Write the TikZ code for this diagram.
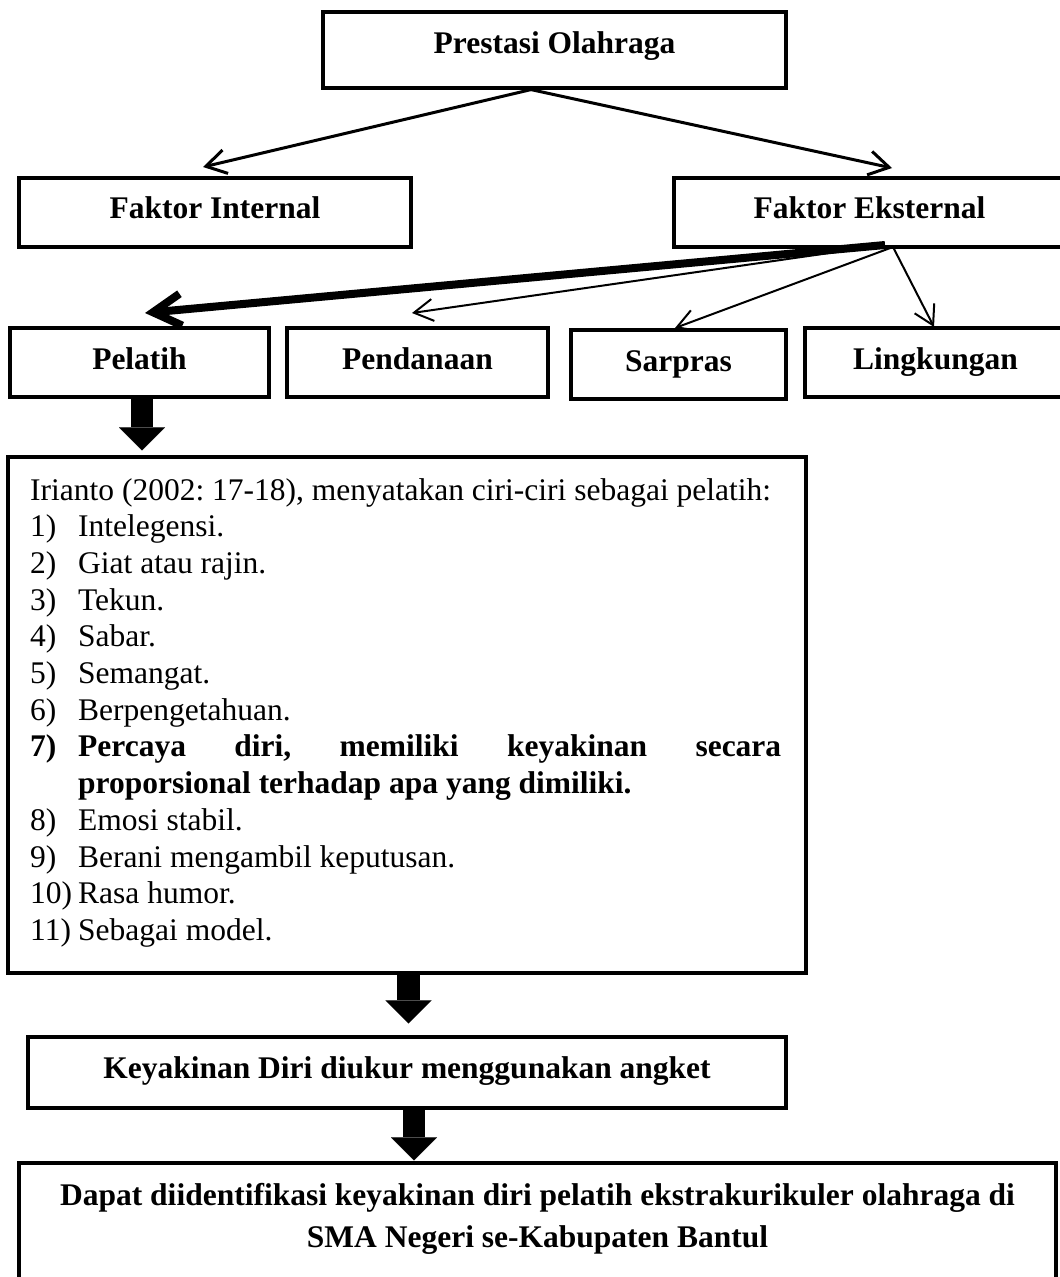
\documentclass[tikz,border=0pt]{standalone}
\usepackage{fontspec}
\setmainfont{Liberation Serif}
\usetikzlibrary{arrows.meta,calc}
\frenchspacing
\begin{document}
\begin{tikzpicture}[x=1pt,y=-1pt,
  box/.style={draw, line width=3.2pt, inner sep=0pt, font=\bfseries\fontsize{31.5}{36.7}\selectfont, text depth=0pt},
  lst/.style={anchor=base west, inner sep=0pt, font=\fontsize{31.5}{36.7}\selectfont},
  btxt/.style={anchor=base, inner sep=0pt, font=\bfseries\fontsize{31.5}{36.7}\selectfont},
  thinarr/.style={line width=2pt, -{Straight Barb[length=19pt,width=22pt]}},
  midarr/.style={line width=3pt, -{Straight Barb[length=20pt,width=24pt]}},
  fatarr/.style={line width=8pt, -{Straight Barb[length=28pt,width=32pt]}},
  blockarr/.style={line width=22.5pt, -{Triangle[length=23pt,width=46pt,line width=0.01pt]}}]
\clip (0,0) rectangle (1060,1277);
\fill[white] (0,0) rectangle (1060,1277);

% boxes
\node[box, minimum width=463pt, minimum height=76pt, text height=6pt] (top) at (554.5,50) {Prestasi Olahraga};
\node[box, minimum width=392pt, minimum height=69pt, text height=11pt] (fi) at (215,212.5) {Faktor Internal};
\node[box, minimum width=391pt, minimum height=69pt, text height=11pt] (fe) at (869.5,212.5) {Faktor Eksternal};
\node[box, minimum width=259pt, minimum height=69pt, text height=13pt] (pel) at (139.5,362.5) {Pelatih};
\node[box, minimum width=261pt, minimum height=69pt, text height=13pt] (pen) at (417.5,362.5) {Pendanaan};
\node[box, minimum width=215pt, minimum height=69pt, text height=13pt] (sar) at (678.5,364.5) {Sarpras};
\node[box, minimum width=261pt, minimum height=69pt, text height=13pt] (lin) at (935.5,362.5) {Lingkungan};
\node[box, minimum width=798pt, minimum height=516pt] (iri) at (407,715) {};
\node[box, minimum width=758pt, minimum height=71pt, text height=11pt] (key) at (407,1072.5) {Keyakinan Diri diukur menggunakan angket};
\node[box, minimum width=1037pt, minimum height=137pt] (bot) at (537.5,1231.5) {};

% list text
\node[lst] (l0) at (30,500) {Irianto (2002: 17-18), menyatakan ciri-ciri sebagai pelatih:};
\node[lst] (l1) at (30,536.7) {\makebox[48pt][l]{1)}Intelegensi.};
\node[lst] (l2) at (30,573.4) {\makebox[48pt][l]{2)}Giat atau rajin.};
\node[lst] (l3) at (30,610.1) {\makebox[48pt][l]{3)}Tekun.};
\node[lst] (l4) at (30,646.8) {\makebox[48pt][l]{4)}Sabar.};
\node[lst] (l5) at (30,683.5) {\makebox[48pt][l]{5)}Semangat.};
\node[lst] (l6) at (30,720.2) {\makebox[48pt][l]{6)}Berpengetahuan.};
\node[lst] (l7) at (30,756.9) {\bfseries\makebox[48pt][l]{7)}\makebox[703pt][s]{Percaya diri, memiliki keyakinan secara}};
\node[lst] (l7b) at (78,793.6) {\bfseries proporsional terhadap apa yang dimiliki.};
\node[lst] (l8) at (30,830.3) {\makebox[48pt][l]{8)}Emosi stabil.};
\node[lst] (l9) at (30,867) {\makebox[48pt][l]{9)}Berani mengambil keputusan.};
\node[lst] (l10) at (30,903.7) {\makebox[48pt][l]{10)}Rasa humor.};
\node[lst] (l11) at (30,940.4) {\makebox[48pt][l]{11)}Sebagai model.};

% bottom text
\node[btxt] (b1) at (537.5,1205) {Dapat diidentifikasi keyakinan diri pelatih ekstrakurikuler olahraga di};
\node[btxt] (b2) at (537.5,1247) {SMA Negeri se-Kabupaten Bantul};

% arrow coordinates
\coordinate (a0) at ($(top.south)+(-23.5,0)$);
\coordinate (tfi) at (203,167);
\coordinate (tfe) at (892,168);
\coordinate (e0) at (885,245);
\coordinate (e1) at (893,247);
\coordinate (tpel) at (145,313);
\coordinate (tpen) at (412,313);
\coordinate (tsar) at (675,328);
\coordinate (tlin) at (934,327);

\draw[midarr] (a0) -- (tfi);
\draw[midarr] (a0) -- (tfe);
\draw[thinarr] (e0) -- (tpen);
\draw[fatarr] (e0) -- (tpel);
\draw[thinarr] (e1) -- (tsar);
\draw[thinarr] (e1) -- (tlin);

% block arrows
\draw[blockarr] ($(pel.south)+(2.5,0)$) -- ($(iri.north -| pel.south)+(2.5,-5)$);
\draw[blockarr] ($(iri.south)+(1.5,0)$) -- ($(key.north)+(1.5,-12)$);
\draw[blockarr] ($(key.south)+(7,0)$) -- ($(bot.north)+(-123.5,-1)$);
\end{tikzpicture}
\end{document}
